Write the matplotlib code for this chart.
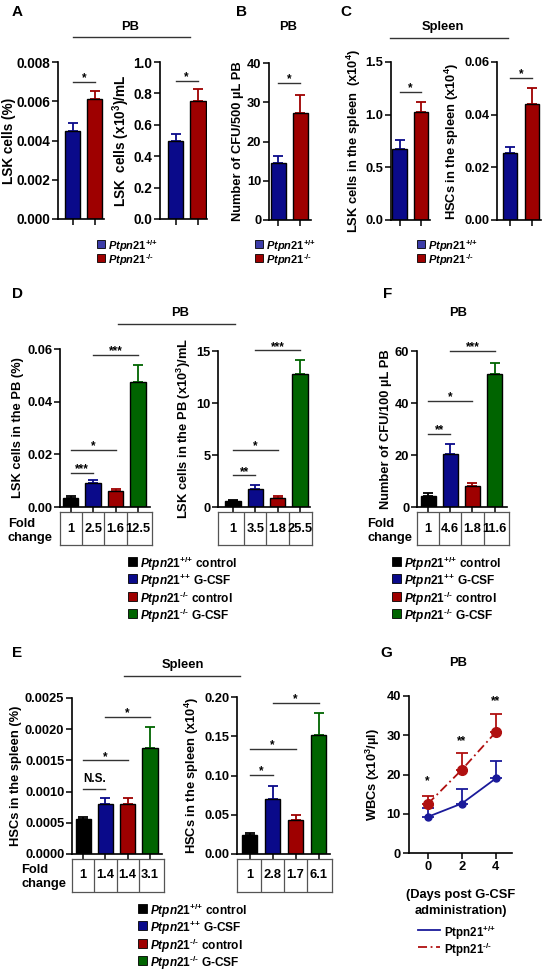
import numpy as np
import matplotlib
matplotlib.use('Agg')
import matplotlib.pyplot as plt
from matplotlib.patches import Rectangle
from matplotlib.lines import Line2D
from matplotlib.ticker import FormatStrFormatter

plt.rcParams['font.family'] = ['Liberation Sans', 'DejaVu Sans']
plt.rcParams['font.weight'] = 'bold'
plt.rcParams['axes.labelweight'] = 'bold'
plt.rcParams['mathtext.fontset'] = 'custom'
plt.rcParams['mathtext.rm'] = 'Liberation Sans:bold'
plt.rcParams['mathtext.it'] = 'Liberation Sans:italic:bold'
plt.rcParams['mathtext.bf'] = 'Liberation Sans:bold'
plt.rcParams['mathtext.default'] = 'rm'

# ---- data ----
# A-C: Ptpn21+/+ vs Ptpn21-/-
a_pct = [0.00446, 0.00611]
a_pct_err = [0.00043, 0.00043]
a_abs = [0.498, 0.753]
a_abs_err = [0.042, 0.075]
b_cfu = [14.4, 27.2]
b_cfu_err = [2.0, 4.6]
c_lsk = [0.672, 1.03]
c_lsk_err = [0.09, 0.095]
c_hsc = [0.0254, 0.0440]
c_hsc_err = [0.0023, 0.0063]

# D-F: WT control, WT G-CSF, KO control, KO G-CSF
d_pct = [0.0036, 0.0093, 0.0060, 0.0473]
d_pct_err = [0.0007, 0.0011, 0.0007, 0.0067]
d_abs = [0.54, 1.76, 0.86, 12.83]
d_abs_err = [0.10, 0.31, 0.16, 1.27]
f_cfu = [4.3, 20.3, 7.9, 51.3]
f_cfu_err = [1.0, 3.8, 1.2, 4.2]
e_pct = [0.00056, 0.00080, 0.00080, 0.00170]
e_pct_err = [0.00003, 0.00010, 0.00009, 0.00034]
e_abs = [0.0246, 0.0705, 0.0429, 0.151]
e_abs_err = [0.0022, 0.0157, 0.0064, 0.0286]

fold_d_pct = ['1', '2.5', '1.6', '12.5']
fold_d_abs = ['1', '3.5', '1.8', '25.5']
fold_f = ['1', '4.6', '1.8', '11.6']
fold_e_pct = ['1', '1.4', '1.4', '3.1']
fold_e_abs = ['1', '2.8', '1.7', '6.1']

# significance brackets: (bar i, bar j, height, label)
sig_a_pct = [(0, 1, 0.0070, '*')]
sig_a_abs = [(0, 1, 0.877, '*')]
sig_b = [(0, 1, 34.9, '*')]
sig_c_lsk = [(0, 1, 1.215, '*')]
sig_c_hsc = [(0, 1, 0.0539, '*')]
sig_d_pct = [(0, 1, 0.013, '***'), (0, 2, 0.0216, '*'), (1, 3, 0.0578, '***')]
sig_d_abs = [(0, 1, 3.03, '**'), (0, 2, 5.49, '*'), (1, 3, 15.06, '***')]
sig_f = [(0, 1, 28.1, '**'), (0, 2, 40.85, '*'), (1, 3, 60.0, '***')]
sig_e_pct = [(0, 1, 0.00104, 'N.S.'), (0, 2, 0.0015, '*'), (1, 3, 0.0022, '*')]
sig_e_abs = [(0, 1, 0.1002, '*'), (0, 2, 0.134, '*'), (1, 3, 0.192, '*')]

# G: WBC time course
days = [0, 2, 4]
wbc_wt = [9.2, 12.6, 19.0]
wbc_wt_err = [2.3, 3.8, 4.5]
wbc_ko = [12.5, 21.2, 30.8]
wbc_ko_err = [2.0, 4.2, 4.6]
wbc_sig = ['*', '**', '**']
wbc_sig_y = [18.2, 28.6, 38.8]

lab_wt = r'$\mathit{Ptpn21}^{\text{+/+}}$'
lab_ko = r'$\mathit{Ptpn21}^{\text{-/-}}$'
group_labels = [lab_wt + ' control',
                r'$\mathit{Ptpn21}^{\text{++}}$ G-CSF',
                lab_ko + ' control',
                lab_ko + ' G-CSF']
g_labels = [r'Ptpn21$^{\text{+/+}}$', r'Ptpn21$^{\text{-/-}}$']

BLACK = '#000000'
BLUE = '#0a0a8a'
RED = '#9e0000'
GREEN = '#006400'
BLUE_LEG = '#3c3ca8'
two_colors = [BLUE, RED]
four_colors = [BLACK, BLUE, RED, GREEN]

W, H = 550, 975
fig = plt.figure(figsize=(5.5, 9.75), dpi=100)
FS = 9.3


def fx(x):
    return x / W


def fy(y):
    return 1 - y / H


def add_ax(left, right, top, bottom):
    return fig.add_axes([fx(left), fy(bottom), (right - left) / W, (bottom - top) / H])


def bar_panel(box, xlim, vals, errs, colors, ymax, step, fmt, ylabel, sig, fs=FS, lpad=2):
    ax = add_ax(*box)
    x = np.arange(len(vals))
    ax.bar(x, vals, width=0.68, color=colors, edgecolor='black', linewidth=1.0, zorder=2)
    for xi, v, e, c in zip(x, vals, errs, colors):
        ax.errorbar(xi, v, yerr=[[0], [e]], color=c, elinewidth=1.3, capsize=3.5,
                    capthick=1.3, zorder=1)
    ax.set_xlim(xlim)
    ax.set_ylim(0, ymax)
    ax.set_yticks(np.arange(0, ymax + step / 2, step))
    ax.yaxis.set_major_formatter(FormatStrFormatter(fmt))
    ax.set_xticks(x)
    ax.set_xticklabels([])
    for s in ['top', 'right']:
        ax.spines[s].set_visible(False)
    for s in ['left', 'bottom']:
        ax.spines[s].set_linewidth(1.2)
    ax.tick_params(length=4, width=1.1, labelsize=fs, pad=1.5)
    ax.set_ylabel(ylabel, fontsize=fs, labelpad=lpad)
    for i, j, y, lab in sig:
        ax.plot([i, j], [y, y], color='#333333', lw=1.0, clip_on=False)
        off = 5 if lab == 'N.S.' else 0.5
        ax.annotate(lab, ((i + j) / 2, y), xytext=(0, off), textcoords='offset points',
                    ha='center', va='baseline', fontsize=8.5, annotation_clip=False)
    return ax


def fold_table(box, xlim, labels):
    left, right, top, bottom = box
    tax = add_ax(left, right + 2, bottom + 5, bottom + 38)
    tax.set_xlim(xlim[0], xlim[1] + 2 * (xlim[1] - xlim[0]) / (right - left))
    tax.set_ylim(0, 1)
    tax.set_xticks([])
    tax.set_yticks([])
    for s in tax.spines.values():
        s.set_color('#555555')
        s.set_linewidth(0.9)
    for k in range(len(labels) - 1):
        tax.axvline(k + 0.5, color='#555555', lw=0.9)
    for k, lab in enumerate(labels):
        tax.text(k, 0.5, lab, ha='center', va='center', fontsize=FS)


def header(x, y, text, line=None):
    fig.text(fx(x), fy(y), text, ha='center', va='center', fontsize=FS)
    if line is not None:
        fig.add_artist(Line2D([fx(line[0]), fx(line[1])], [fy(line[2])] * 2,
                              color='#333333', lw=1.0))


def legend_rows(x, y0, dy, labels, colors, fs, sq):
    for k, (lab, c) in enumerate(zip(labels, colors)):
        y = y0 + k * dy
        fig.add_artist(Rectangle((fx(x), fy(y + sq / 2)), sq / W, sq / H,
                                 facecolor=c, edgecolor='black', lw=0.6))
        fig.text(fx(x + sq + 3), fy(y), lab, ha='left', va='center_baseline', fontsize=fs)


def letter(x, y, s):
    fig.text(fx(x), fy(y), s, ha='left', va='center', fontsize=11)


# ---- A ----
letter(12, 12, 'A')
header(130, 27, 'PB', (73, 190, 37))
bar_panel((58, 104, 62, 219), (-0.68, 1.41), a_pct, a_pct_err, two_colors,
          0.008, 0.002, '%.3f', 'LSK cells (%)', sig_a_pct, fs=9.8, lpad=0.5)
bar_panel((160, 207, 62, 219), (-0.69, 1.4), a_abs, a_abs_err, two_colors,
          1.0, 0.2, '%.1f', r'LSK  cells (x10$^{3}$)/mL', sig_a_abs, fs=9.8, lpad=1)
legend_rows(97, 244, 14, [lab_wt, lab_ko], [BLUE_LEG, RED], 8, 8)

# ---- B ----
letter(236, 12, 'B')
header(288, 27, 'PB')
bar_panel((269, 311, 63, 220), (-0.43, 1.48), b_cfu, b_cfu_err, two_colors,
          40, 10, '%d', 'Number of CFU/500 µL PB', sig_b)
legend_rows(255, 244, 14, [lab_wt, lab_ko], [BLUE_LEG, RED], 8, 8)

# ---- C ----
letter(340, 12, 'C')
header(443, 27, 'Spleen', (390, 508, 38))
bar_panel((391, 430, 62, 220), (-0.4, 1.42), c_lsk, c_lsk_err, two_colors,
          1.5, 0.5, '%.1f', r'LSK cells in the spleen  (x10$^{4}$)', sig_c_lsk)
bar_panel((497, 541, 62, 220), (-0.59, 1.41), c_hsc, c_hsc_err, two_colors,
          0.06, 0.02, '%.2f', r'HSCs in the spleen (x10$^{4}$)', sig_c_hsc)
legend_rows(417, 244, 14, [lab_wt, lab_ko], [BLUE_LEG, RED], 8, 8)

# ---- D ----
letter(12, 294, 'D')
header(180, 313, 'PB', (118, 235, 324))
box = (60, 150, 349, 507)
bar_panel(box, (-0.47, 3.53), d_pct, d_pct_err, four_colors,
          0.06, 0.02, '%.2f', 'LSK cells in the PB (%)', sig_d_pct)
fold_table(box, (-0.47, 3.53), fold_d_pct)
box = (218, 310, 351, 507)
bar_panel(box, (-0.67, 3.45), d_abs, d_abs_err, four_colors,
          15, 5, '%d', r'LSK cells in the PB (x10$^{3}$)/mL', sig_d_abs)
fold_table(box, (-0.67, 3.45), fold_d_abs)
fig.text(fx(8), fy(531), 'Fold\nchange', ha='left', va='center', fontsize=FS, linespacing=1.15)
legend_rows(128, 561, 17.6, group_labels, four_colors, 8.6, 9)

# ---- F ----
letter(383, 294, 'F')
header(458, 313, 'PB')
box = (417, 507, 351, 507)
bar_panel(box, (-0.5, 3.56), f_cfu, f_cfu_err, four_colors,
          60, 20, '%d', 'Number of CFU/100 µL PB', sig_f)
fold_table(box, (-0.5, 3.56), fold_f)
fig.text(fx(367), fy(531), 'Fold\nchange', ha='left', va='center', fontsize=FS, linespacing=1.15)
legend_rows(392, 561, 17.6, group_labels, four_colors, 8.6, 9)

# ---- E ----
letter(12, 653, 'E')
header(183, 665, 'Spleen', (124, 240, 676))
box = (72, 162, 698, 854)
bar_panel(box, (-0.5, 3.54), e_pct, e_pct_err, four_colors,
          0.0025, 0.0005, '%.4f', 'HSCs in the spleen (%)', sig_e_pct)
fold_table(box, (-0.5, 3.54), fold_e_pct)
box = (237, 330, 697, 854)
bar_panel(box, (-0.55, 3.5), e_abs, e_abs_err, four_colors,
          0.20, 0.05, '%.2f', r'HSCs in the spleen (x10$^{4}$)', sig_e_abs)
fold_table(box, (-0.55, 3.5), fold_e_abs)
fig.text(fx(21), fy(877), 'Fold\nchange', ha='left', va='center', fontsize=FS, linespacing=1.15)
legend_rows(138, 908, 17.6, group_labels, four_colors, 8.6, 9)

# ---- G ----
letter(380, 653, 'G')
header(458, 663, 'PB')
axg = add_ax(409, 512, 696, 853)
G_BLUE = '#1a1a9a'
G_RED = '#b01010'
axg.errorbar(days, wbc_wt, yerr=[np.zeros(3), wbc_wt_err], fmt='o-', color=G_BLUE,
             ms=5, lw=1.3, capsize=4, capthick=1.3, elinewidth=1.3, zorder=2)
axg.errorbar(days, wbc_ko, yerr=[np.zeros(3), wbc_ko_err], fmt='o', linestyle=(0, (5, 2, 1, 2)),
             color=G_RED, ms=7, lw=1.3, capsize=4, capthick=1.3, elinewidth=1.3, zorder=3)
for d, y, s in zip(days, wbc_sig_y, wbc_sig):
    axg.text(d, y, s, ha='center', va='center', fontsize=8.5)
axg.set_xlim(-1.1, 4.95)
axg.set_ylim(0, 40)
axg.set_xticks(days)
axg.set_yticks(np.arange(0, 41, 10))
for s in ['top', 'right']:
    axg.spines[s].set_visible(False)
for s in ['left', 'bottom']:
    axg.spines[s].set_linewidth(1.2)
axg.tick_params(length=4, width=1.1, labelsize=FS, pad=2)
axg.set_ylabel(r'WBCs (x10$^{3}$/µl)', fontsize=FS, labelpad=3)
axg.set_xlabel('(Days post G-CSF\nadministration)', fontsize=FS, labelpad=11, linespacing=1.5)
for k, (lab, c, ls) in enumerate(zip(g_labels, [G_BLUE, G_RED], ['-', (0, (5, 2, 1, 2))])):
    y = 930 + k * 17
    fig.add_artist(Line2D([fx(418), fx(440)], [fy(y)] * 2, color=c, lw=1.3, linestyle=ls))
    fig.text(fx(444), fy(y), lab, ha='left', va='center_baseline', fontsize=8.4)

fig.savefig('out.png', dpi=100)
